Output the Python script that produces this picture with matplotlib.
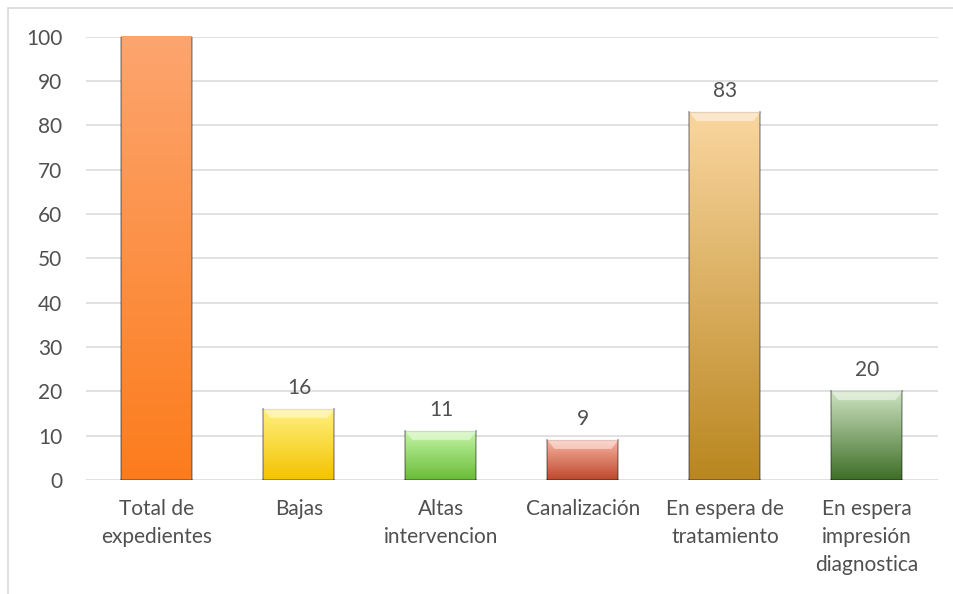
import matplotlib
matplotlib.use("Agg")
import matplotlib.pyplot as plt
from matplotlib.colors import LinearSegmentedColormap
from matplotlib.patches import Rectangle
import numpy as np

categorias = ["Total de\nexpedientes", "Bajas", "Altas\nintervencion", "Canalización",
              "En espera de\ntratamiento", "En espera\nimpresión\ndiagnostica"]
valores = [139, 16, 11, 9, 83, 20]

# color arriba / color abajo de cada barra
colores_arriba = ["#FCA56F", "#FFF07E", "#C4F5A6", "#F8B3A2", "#FAD6A0", "#CDE3C2"]
colores_abajo = ["#FD7C1C", "#F4C300", "#69BC38", "#BD482B", "#B9861F", "#3E6E27"]

texto = "#505050"
plt.rcParams['font.family'] = ['Lato', 'DejaVu Sans']

fig = plt.figure(figsize=(9.54, 5.94), dpi=100)
ax = fig.add_axes([0.0901, 0.192, 0.893, 0.746])

# marco exterior
fig.patches.append(Rectangle((8 / 954, -0.05), (944 - 8) / 954 + 0.01, 1.05 - 8 / 594,
                             transform=fig.transFigure, fill=False,
                             edgecolor="#D9D9D9", linewidth=1.2))

x = np.arange(len(valores))
ancho = 0.5
ax.set_xlim(-0.5, len(valores) - 0.5)
ax.set_ylim(0, 100)

barras = ax.bar(x, valores, width=ancho, color="none", edgecolor="none", zorder=3)
grad = np.linspace(0, 1, 256).reshape(-1, 1)
for i, b in enumerate(barras):
    cmap = LinearSegmentedColormap.from_list("g%d" % i, [colores_abajo[i], colores_arriba[i]])
    top = min(valores[i], 100)
    x0 = b.get_x()
    im = ax.imshow(grad, cmap=cmap, origin="lower", aspect="auto",
                   extent=[x0, x0 + ancho, 0, top], zorder=3)
    im.set_clip_path(b)
    # bordes laterales mas oscuros
    ax.plot([x0, x0], [0, top], color=(0, 0, 0, 0.3), lw=1.3, zorder=4)
    ax.plot([x0 + ancho, x0 + ancho], [0, top], color=(0, 0, 0, 0.3), lw=1.3, zorder=4)
    ax.plot([x0, x0 + ancho], [0, 0], color=(0, 0, 0, 0.3), lw=1.3, zorder=4)
    if valores[i] <= 100:
        ax.plot([x0, x0 + ancho], [top, top], color=(0, 0, 0, 0.15), lw=1.0, zorder=4)
        # bisel superior claro
        ax.fill([x0, x0 + ancho, x0 + ancho - 0.05, x0 + 0.05],
                [top, top, top - 2.0, top - 2.0],
                color=(1, 1, 1, 0.45), zorder=4, linewidth=0)
    ax.annotate(str(valores[i]), (x[i], valores[i]), xytext=(0, 8),
                textcoords="offset points", ha="center", va="bottom",
                fontsize=15, color=texto, annotation_clip=True)

ax.set_yticks(np.arange(0, 101, 10))
ax.yaxis.grid(True, color="#D9D9D9", linewidth=1.1, zorder=0)
ax.set_axisbelow(True)
for s in ax.spines.values():
    s.set_visible(False)
ax.tick_params(axis="y", length=0, pad=17, labelsize=15, labelcolor=texto)
ax.tick_params(axis="x", length=0, pad=14, labelsize=15, labelcolor=texto)
ax.set_xticks(x)
ax.set_xticklabels(categorias, linespacing=1.5, va="top")

fig.savefig("out.png", dpi=100)
